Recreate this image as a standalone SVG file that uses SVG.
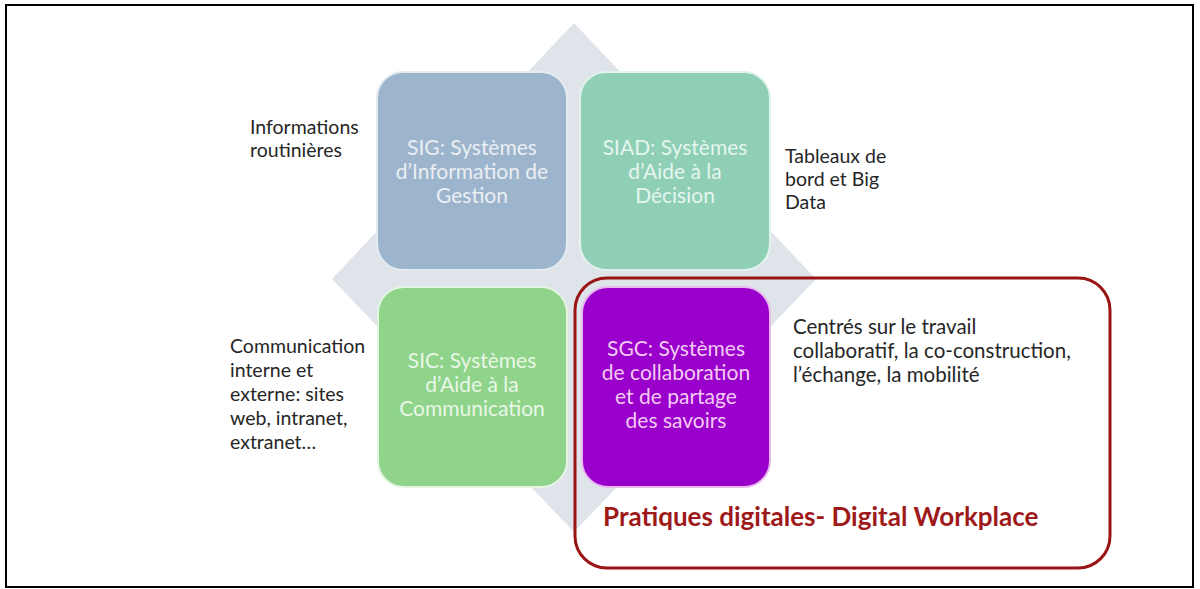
<svg xmlns="http://www.w3.org/2000/svg" width="1200" height="589" viewBox="0 0 1200 589">
<style>
.box{stroke-width:2}
.bt{font-family:Lato,"Open Sans","Liberation Sans",sans-serif;font-size:21px;text-anchor:middle}
.lb{font-family:Lato,"Open Sans","Liberation Sans",sans-serif;font-size:19.5px;fill:#262626}
.title{font-family:Lato,"Open Sans","Liberation Sans",sans-serif;font-size:26px;font-weight:bold;fill:#9e1a1a}
</style>
<rect x="0" y="0" width="1200" height="589" fill="#ffffff"/>
<rect x="6" y="5" width="1187" height="582" fill="#ffffff" stroke="#000000" stroke-width="2"/>
<polygon id="diamond" points="574,23 816,279 574,532 332,279" fill="#dfe3ea"/>
<g id="sig">
<rect class="box" x="377" y="72" width="190" height="198" rx="26" fill="#9db5cc" stroke="#e4ecf1"/>
<text class="bt" fill="#eaeff4"><tspan x="472" y="155">SIG: Systèmes</tspan><tspan x="472" y="179">d’Information de</tspan><tspan x="472" y="203">Gestion</tspan></text>
</g>
<g id="siad">
<rect class="box" x="580" y="72" width="190" height="198" rx="26" fill="#8ecfb6" stroke="#e2f3ec"/>
<text class="bt" fill="#e6f5ef"><tspan x="675" y="155">SIAD: Systèmes</tspan><tspan x="675" y="179">d’Aide à la</tspan><tspan x="675" y="203">Décision</tspan></text>
</g>
<g id="sic">
<rect class="box" x="378" y="287" width="189" height="200" rx="26" fill="#8fd48a" stroke="#e4f5e2"/>
<text class="bt" fill="#e9f7e7"><tspan x="472" y="368">SIC: Systèmes</tspan><tspan x="472" y="392">d’Aide à la</tspan><tspan x="472" y="416">Communication</tspan></text>
</g>
<g id="sgc">
<rect class="box" x="582" y="287" width="188" height="200" rx="26" fill="#9900cc" stroke="#e9b8ef"/>
<text class="bt" fill="#f4caf2"><tspan x="676" y="356">SGC: Systèmes</tspan><tspan x="676" y="380">de collaboration</tspan><tspan x="676" y="404">et de partage</tspan><tspan x="676" y="428">des savoirs</tspan></text>
</g>
<g id="digital-workplace">
<rect x="575" y="278" width="535" height="290" rx="32" fill="none" stroke="#9b1414" stroke-width="3"/>
<text class="title" x="603" y="526">Pratiques digitales- Digital Workplace</text>
</g>
<g id="label-sig">
<text class="lb"><tspan x="250" y="134">Informations</tspan><tspan x="250" y="157">routinières</tspan></text>
</g>
<g id="label-siad">
<text class="lb"><tspan x="785" y="163">Tableaux de</tspan><tspan x="785" y="186">bord et Big</tspan><tspan x="785" y="209">Data</tspan></text>
</g>
<g id="label-sic">
<text class="lb"><tspan x="230" y="353">Communication</tspan><tspan x="230" y="377">interne et</tspan><tspan x="230" y="401">externe: sites</tspan><tspan x="230" y="425">web, intranet,</tspan><tspan x="230" y="449">extranet…</tspan></text>
</g>
<g id="label-sgc">
<text class="lb" style="font-size:20.5px"><tspan x="793" y="334">Centrés sur le travail</tspan><tspan x="793" y="358">collaboratif, la co-construction,</tspan><tspan x="793" y="382">l’échange, la mobilité</tspan></text>
</g>
<g id="connectors"></g>
</svg>
